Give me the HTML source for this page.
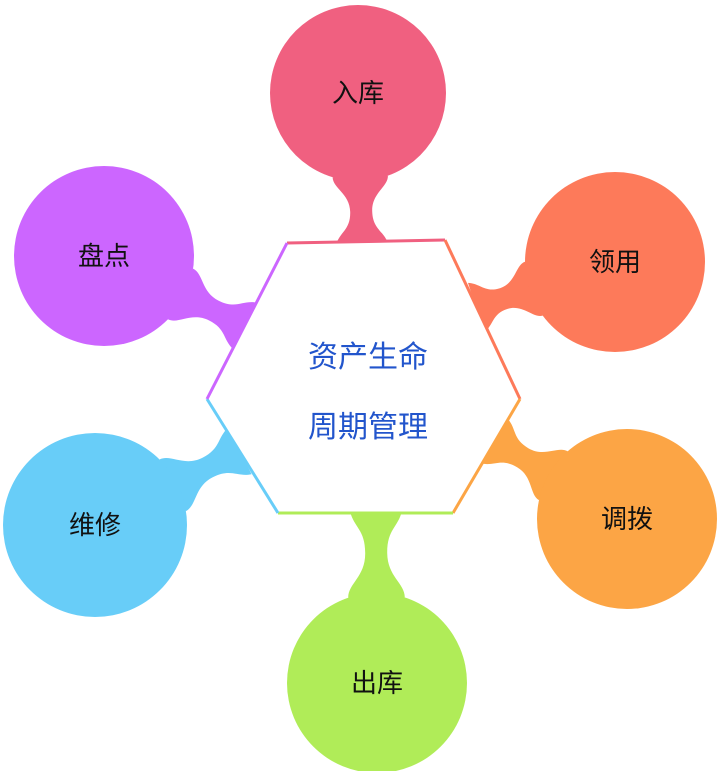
<!DOCTYPE html>
<html><head><meta charset="utf-8"><style>
html,body{margin:0;padding:0;background:#fff;width:717px;height:771px;overflow:hidden}
svg{display:block}
text{font-family:"Liberation Sans","Noto Sans CJK SC",sans-serif}
</style></head><body>
<svg id="s" width="717" height="771" viewBox="0 0 717 771" xmlns="http://www.w3.org/2000/svg">
<g id="bl"></g>
<polygon points="287,243 445,240 520,399 453,513 278,513 207,399" fill="#fff"/>
<line x1="287" y1="243" x2="445" y2="240" stroke="#f06080" stroke-width="3"/>
<line x1="445" y1="240" x2="520" y2="399" stroke="#fd7a5a" stroke-width="3"/>
<line x1="520" y1="399" x2="453" y2="513" stroke="#fca545" stroke-width="3"/>
<line x1="453" y1="513" x2="278" y2="513" stroke="#b0ec58" stroke-width="3"/>
<line x1="278" y1="513" x2="207" y2="399" stroke="#68cdf8" stroke-width="3"/>
<line x1="207" y1="399" x2="287" y2="243" stroke="#cc66ff" stroke-width="3"/>
<text x="368" y="367" font-size="30" fill="#2255cc" text-anchor="middle">资产生命</text>
<text x="368" y="437" font-size="30" fill="#2255cc" text-anchor="middle">周期管理</text>
<g id="lb" font-size="26" fill="#111" text-anchor="middle"></g>
</svg>
<script>
var items=[
 [358,93,88,362,242,"#f06080","入库"],
 [615,262,90,478,307,"#fd7a5a","领用"],
 [627,519,90,496,442,"#fca545","调拨"],
 [377,683,90,376,513,"#b0ec58","出库"],
 [95,525,92,238,452,"#68cdf8","维修"],
 [104,256,90,243,325,"#cc66ff","盘点"]];
var ns="http://www.w3.org/2000/svg",bl=document.getElementById("bl"),lb=document.getElementById("lb");
function P(a){return a[0].toFixed(1)+","+a[1].toFixed(1);}
items.forEach(function(a){
 var cx=a[0],cy=a[1],r=a[2],px=a[3],py=a[4],col=a[5];
 var dx=px-cx,dy=py-cy,L=Math.hypot(dx,dy);dx/=L;dy/=L;var nx=-dy,ny=dx;
 function rot(t){return [cx+r*(dx*Math.cos(t)-dy*Math.sin(t)),cy+r*(dy*Math.cos(t)+dx*Math.sin(t))];}
 var s1=rot(0.32),s2=rot(-0.32);
 var g=L-r, f=0.5;
 var mx=cx+dx*(r+g*f),my=cy+dy*(r+g*f),w=11,ew=26;
 var m1=[mx+nx*w,my+ny*w],m2=[mx-nx*w,my-ny*w];
 var e1=[px+nx*ew+dx*2,py+ny*ew+dy*2],e2=[px-nx*ew+dx*2,py-ny*ew+dy*2];
 var k=g*0.3;
 var d="M"+P(s1)+" C"+P([s1[0]+dx*k*0.6,s1[1]+dy*k*0.6])+" "+P([m1[0]-dx*k,m1[1]-dy*k])+" "+P(m1)+
  " C"+P([m1[0]+dx*k,m1[1]+dy*k])+" "+P([e1[0]-dx*k*0.7+ -nx*4,e1[1]-dy*k*0.7-ny*4])+" "+P(e1)+
  " L"+P(e2)+
  " C"+P([e2[0]-dx*k*0.7+nx*4,e2[1]-dy*k*0.7+ny*4])+" "+P([m2[0]+dx*k,m2[1]+dy*k])+" "+P(m2)+
  " C"+P([m2[0]-dx*k,m2[1]-dy*k])+" "+P([s2[0]+dx*k*0.6,s2[1]+dy*k*0.6])+" "+P(s2)+" Z";
 var p=document.createElementNS(ns,"path");p.setAttribute("d",d);p.setAttribute("fill",col);bl.appendChild(p);
 var c=document.createElementNS(ns,"circle");c.setAttribute("cx",cx);c.setAttribute("cy",cy);c.setAttribute("r",r);c.setAttribute("fill",col);bl.appendChild(c);
 var t=document.createElementNS(ns,"text");t.setAttribute("x",cx);t.setAttribute("y",cy+9);t.textContent=a[6];lb.appendChild(t);
});
</script>
</body></html>
